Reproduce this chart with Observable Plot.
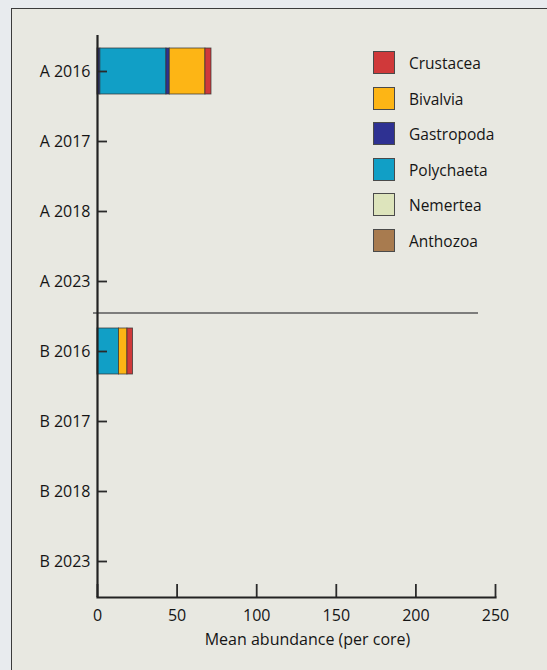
<!DOCTYPE html>
<html>
<head>
<meta charset="utf-8">
<script src="https://cdn.jsdelivr.net/npm/d3@7"></script>
<script src="https://cdn.jsdelivr.net/npm/@observablehq/plot@0.6"></script>
<style>
  html, body { margin: 0; padding: 0; width: 547px; height: 670px; overflow: hidden; background: #e8ebee; }
  #panel { position: absolute; left: 11px; top: 8px; width: 620px; height: 720px; border: 1.5px solid #3b3b3b; background: #e8e8e1; }
  #chart { position: absolute; left: 0; top: 0; }
  #legend { position: absolute; left: 373px; top: 51px; font-family: "Open Sans", sans-serif; font-size: 15.5px; color: #151515; }
  .item { position: absolute; left: 0; height: 24px; white-space: nowrap; }
  .swatch { position: absolute; left: 0; top: 0; width: 20px; height: 21px; border: 1.3px solid #4a4a4a; }
  .name { position: absolute; left: 36px; top: 1px; line-height: 23px; }
</style>
</head>
<body>
<div id="panel"></div>
<div id="chart"></div>
<div id="legend"></div>
<script>
// Sampling sites and years (y axis, top to bottom)
const sites = ["A 2016", "A 2017", "A 2018", "A 2023", "B 2016", "B 2017", "B 2018", "B 2023"];

// Taxa and their colours, in legend order
const taxa = ["Crustacea", "Bivalvia", "Gastropoda", "Polychaeta", "Nemertea", "Anthozoa"];
const taxonColors = ["#d0393a", "#fdb515", "#2e3192", "#119fc6", "#dde4bc", "#a87b4f"];

// Stacked bar segments (mean abundance per core), in stacking order
const segmentSite  = ["A 2016", "A 2016", "A 2016", "A 2016", "A 2016", "B 2016", "B 2016", "B 2016"];
const segmentTaxon = ["Gastropoda", "Polychaeta", "Gastropoda", "Bivalvia", "Crustacea", "Polychaeta", "Bivalvia", "Crustacea"];
const segmentValue = [1.8, 41.5, 2.1, 22.4, 3.8, 13.5, 5.3, 3.5];

// x axis ticks
const xTicks = [0, 50, 100, 150, 200, 250];

const segments = segmentSite.map((site, i) => ({site, taxon: segmentTaxon[i], value: segmentValue[i]}));

const font = "'Open Sans', sans-serif";

const chart = Plot.plot({
  width: 547,
  height: 670,
  marginLeft: 97,
  marginRight: 52,
  marginTop: 35,
  marginBottom: 73,
  style: {background: "transparent", fontFamily: font, fontSize: "16px", color: "#151515"},
  x: {domain: [0, 250], ticks: xTicks},
  y: {domain: sites, paddingInner: 0.35, paddingOuter: 0.175},
  color: {domain: taxa, range: taxonColors},
  marks: [
    // group separator between site A and site B
    Plot.ruleY(["B 2016"], {dy: -38.5, insetLeft: -4, insetRight: 17, stroke: "#5a5a5a", strokeWidth: 1.4}),
    Plot.barX(segments, Plot.stackX({
      x: "value", y: "site", fill: "taxon", order: null,
      stroke: "#333", strokeWidth: 0.9, strokeOpacity: 0.8
    })),
    // y ticks pointing into the plot
    Plot.tickY(sites, {y: d => d, insetRight: 388, stroke: "#2a2a2a", strokeWidth: 1.8}),
    // x ticks pointing up into the plot
    Plot.tickX(xTicks, {x: d => d, insetTop: 549, stroke: "#2a2a2a", strokeWidth: 1.8}),
    Plot.axisY({tickSize: 0, tickPadding: 7, label: null, fontSize: 16}),
    Plot.axisX({tickSize: 0, tickPadding: 12, label: null, fontSize: 16}),
    Plot.text(["Mean abundance (per core)"], {frameAnchor: "bottom", dy: 47, dx: 11, fontSize: 16, fill: "#151515"}),
    Plot.ruleX([0], {stroke: "#222", strokeWidth: 2.2}),
    Plot.frame({anchor: "bottom", stroke: "#222", strokeWidth: 2.2})
  ]
});
document.getElementById("chart").appendChild(chart);

// legend
const legend = d3.select("#legend");
taxa.forEach((t, i) => {
  const item = legend.append("div").attr("class", "item").style("top", `${i * 35.6}px`);
  item.append("div").attr("class", "swatch").style("background", taxonColors[i]);
  item.append("div").attr("class", "name").text(t);
});
</script>
</body>
</html>
